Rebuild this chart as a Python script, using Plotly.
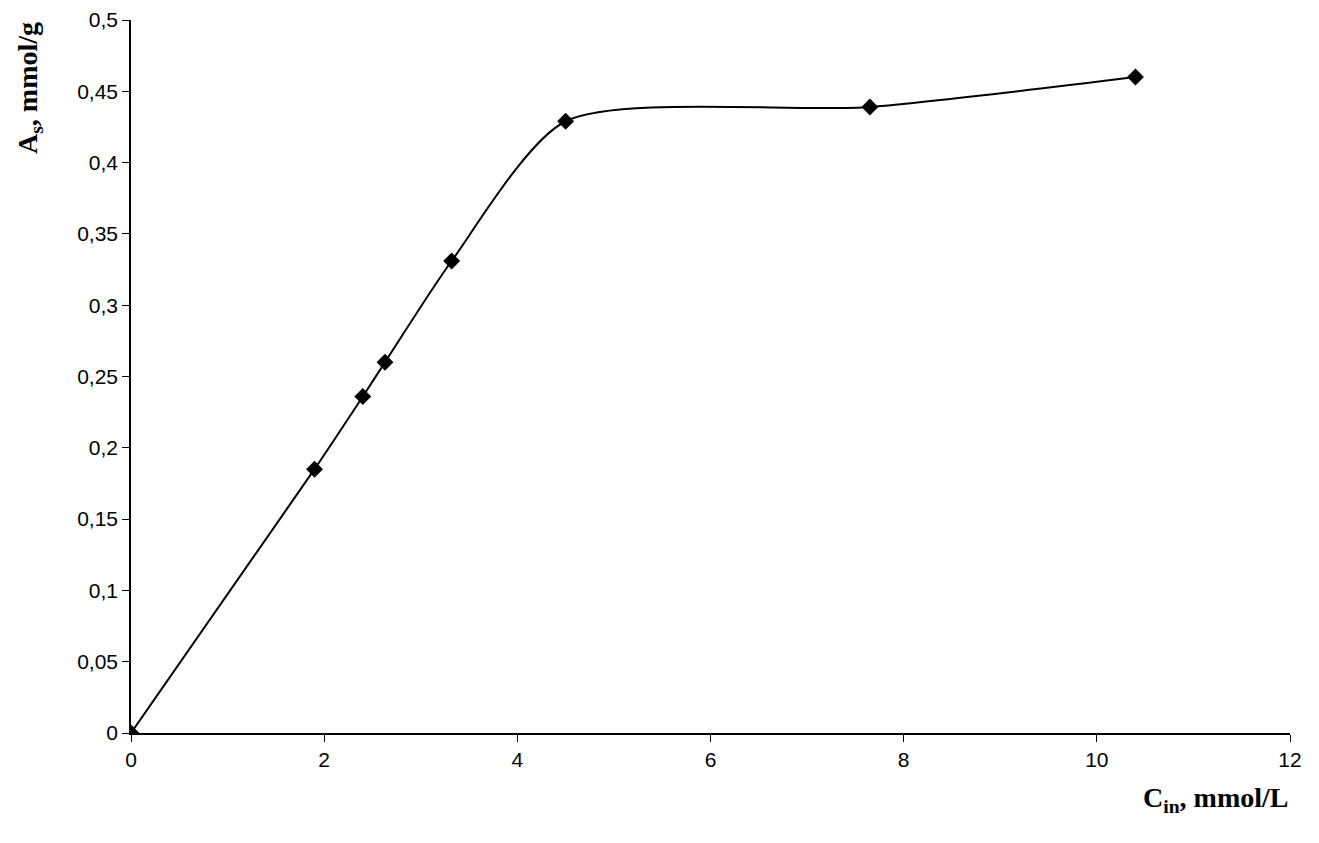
import plotly.graph_objs as go

c_in = [0, 1.9, 2.4, 2.63, 3.32, 4.5, 7.65, 10.4]
a_s = [0, 0.185, 0.236, 0.26, 0.331, 0.429, 0.439, 0.46]

x_ticks = [0, 2, 4, 6, 8, 10, 12]
y_ticks = [0, 0.05, 0.1, 0.15, 0.2, 0.25, 0.3, 0.35, 0.4, 0.45, 0.5]
y_labels = [("%g" % v).replace(".", ",") for v in y_ticks]

trace = go.Scatter(
    x=c_in, y=a_s, mode='lines+markers',
    line=dict(color='black', width=2, shape='spline', smoothing=0.7),
    marker=dict(symbol='diamond', size=13, color='black'),
)

layout = go.Layout(
    width=1319, height=843,
    margin=dict(l=123, r=37, t=12, b=118),
    paper_bgcolor='white', plot_bgcolor='white',
    showlegend=False,
    font=dict(family='Liberation Sans, Arial', size=21, color='black'),
    xaxis=dict(range=[0, 12], tickvals=x_ticks, showline=True, linecolor='black',
               linewidth=1.5, ticks='outside', ticklen=7, tickcolor='black',
               showgrid=False, zeroline=False, automargin=False),
    yaxis=dict(range=[0, 0.5], tickvals=y_ticks, ticktext=y_labels, showline=True,
               linecolor='black', linewidth=1.5, ticks='outside', ticklen=7,
               tickcolor='black', showgrid=False, zeroline=False, automargin=False),
    annotations=[
        dict(text='<b>C<sub>in</sub>, mmol/L</b>', xref='paper', yref='paper',
             x=1.0, y=-0.066, xanchor='right', yanchor='top', showarrow=False,
             font=dict(family='Liberation Serif, Times New Roman', size=28)),
        dict(text='<b>A<sub>s</sub>, mmol/g</b>', xref='paper', yref='paper',
             x=-0.088, y=1.0, xanchor='center', yanchor='top', textangle=-90,
             showarrow=False,
             font=dict(family='Liberation Serif, Times New Roman', size=28)),
    ],
)

fig = go.Figure(data=[trace], layout=layout)
fig.write_html("out.html")
